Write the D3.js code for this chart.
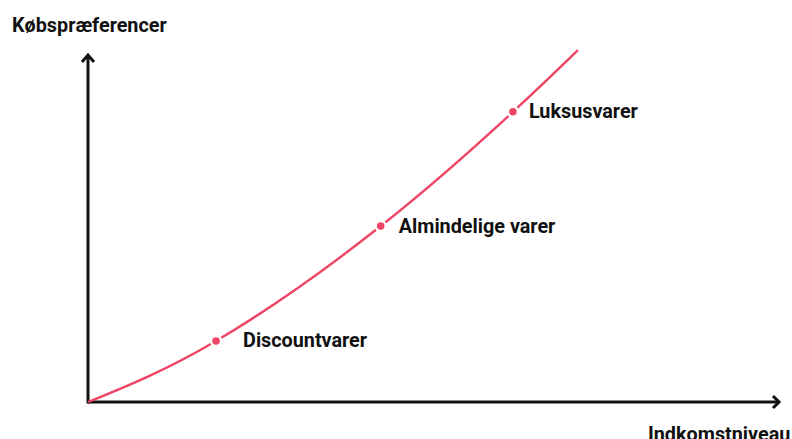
<!DOCTYPE html>
<html>
<head>
<meta charset="utf-8">
<script src="https://cdn.jsdelivr.net/npm/d3@7"></script>
<style>
  body { margin: 0; background: #fff; }
  text { font-family: Roboto, "Noto Sans", sans-serif; font-weight: bold; fill: #111; }
</style>
</head>
<body>
<svg id="chart" width="792" height="439"></svg>
<script>
// curve (income -> purchase preference, arbitrary units)
var curveX = [0, 18.5, 42.3, 61.4, 70.8];
var curveY = [0, 17.7, 51.0, 84.1, 102];

// labelled points on the curve
var pointNames = ["Discountvarer", "Almindelige varer", "Luksusvarer"];
var pointX = [18.5, 42.3, 61.4];
var pointY = [17.7, 51.0, 84.1];

var xTitle = "Indkomstniveau",
    yTitle = "Købspræferencer";

var svg = d3.select("#chart"),
    red = "#ee4466",
    fontSize = "19.8px",
    labelDx = [27, 18, 16]; // horizontal gap from dot to label

var x = d3.scaleLinear().domain([0, 100]).range([88, 780]),
    y = d3.scaleLinear().domain([0, 100]).range([402, 57]);

// axes with open arrow heads
var axes = svg.append("g")
    .attr("stroke", "#111")
    .attr("stroke-width", 3)
    .attr("fill", "none")
    .attr("stroke-linecap", "butt");

axes.append("line")
    .attr("x1", x(0)).attr("y1", y(0))
    .attr("x2", x(100) - 1).attr("y2", y(0));
axes.append("path")
    .attr("d", "M" + (x(100) - 7) + "," + (y(0) - 6) + "L" + (x(100) - 1) + "," + y(0) +
               "L" + (x(100) - 7) + "," + (y(0) + 6));

axes.append("line")
    .attr("x1", x(0)).attr("y1", y(0) + 1.5)
    .attr("x2", x(0)).attr("y2", y(100) - 2);
axes.append("path")
    .attr("d", "M" + (x(0) - 6) + "," + (y(100) + 5) + "L" + x(0) + "," + (y(100) - 2) +
               "L" + (x(0) + 6) + "," + (y(100) + 5));

// the curve
var line = d3.line()
    .x(function(d) { return x(d[0]); })
    .y(function(d) { return y(d[1]); })
    .curve(d3.curveNatural);

svg.append("path")
    .datum(curveX.map(function(v, i) { return [v, curveY[i]]; }))
    .attr("d", line)
    .attr("fill", "none")
    .attr("stroke", red)
    .attr("stroke-width", 2.4);

// dots + labels
var pts = svg.selectAll(".pt")
    .data(pointNames.map(function(n, i) { return {name: n, x: pointX[i], y: pointY[i], dx: labelDx[i]}; }))
  .enter().append("g")
    .attr("class", "pt")
    .attr("transform", function(d) { return "translate(" + x(d.x) + "," + y(d.y) + ")"; });

pts.append("circle")
    .attr("r", 5)
    .attr("fill", red)
    .attr("stroke", "#fff")
    .attr("stroke-width", 2.5);

pts.append("text")
    .attr("x", function(d) { return d.dx; })
    .attr("y", 6.5)
    .attr("font-size", fontSize)
    .text(function(d) { return d.name; });

// axis titles
svg.append("text")
    .attr("x", 12).attr("y", 32)
    .attr("font-size", fontSize)
    .text(yTitle);

svg.append("text")
    .attr("x", 648).attr("y", 441)
    .attr("font-size", fontSize)
    .text(xTitle);
</script>
</body>
</html>
